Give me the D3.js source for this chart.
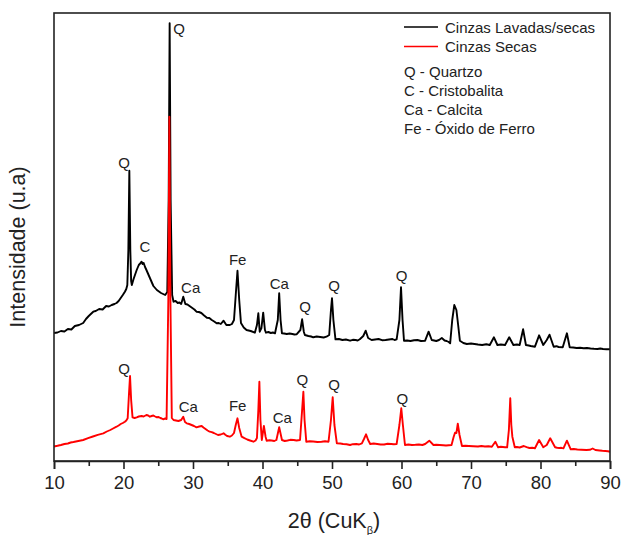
<!DOCTYPE html>
<html>
<head>
<meta charset="utf-8">
<script src="https://cdn.jsdelivr.net/npm/d3@7"></script>
<style>
  html, body { margin: 0; padding: 0; background: #fff; }
  svg { display: block; font-family: "Liberation Sans", Arial, sans-serif; }
</style>
</head>
<body>
<svg id="chart" width="621" height="535"></svg>
<script>
// ---- DATA ----
const seriesNames = ["Cinzas Lavadas/secas", "Cinzas Secas"];
const seriesColors = ["#000000", "#ff0000"];

// 2θ (deg), intensity (a.u.) — Cinzas Lavadas/secas
const lavadas = [
  [10.0,1280],[10.5,1285],[11.0,1300],[11.5,1295],[12.0,1320],[12.5,1315],[13.0,1350],[13.6,1360],[14.2,1380],
  [14.6,1420],[15.0,1450],[15.3,1470],[15.65,1493],[16.0,1500],[16.5,1520],[17.0,1515],[17.5,1550],[17.9,1545],
  [18.3,1560],[18.7,1570],[19.0,1580],[19.3,1600],[19.6,1630],[19.9,1660],[20.2,1693],[20.4,1720],[20.55,1760],
  [20.7,2110],[20.84,2903],[20.98,2110],[21.1,1800],[21.2,1760],[21.45,1820],[21.65,1860],[21.9,1910],[22.2,1960],
  [22.4,1975],[22.6,1993],[22.75,1970],[22.9,1980],[23.1,1940],[23.3,1910],[23.55,1870],[23.8,1830],[24.05,1790],
  [24.3,1750],[24.55,1730],[24.8,1710],[25.1,1695],[25.4,1680],[25.7,1670],[26.0,1660],[26.3,1690],[26.5,2610],
  [26.64,4377],[26.78,2610],[27.0,1660],[27.2,1593],[27.5,1600],[27.8,1580],[28.05,1585],[28.3,1570],[28.6,1643],
  [28.9,1570],[29.2,1565],[29.5,1550],[29.9,1530],[30.2,1515],[30.5,1493],[30.85,1490],[31.2,1480],[31.6,1455],
  [32.0,1433],[32.35,1430],[32.7,1410],[33.05,1395],[33.4,1377],[33.7,1380],[34.0,1370],[34.4,1403],[34.8,1360],
  [35.3,1360],[35.6,1370],[35.9,1410],[36.15,1660],[36.4,1903],[36.65,1610],[36.9,1380],[37.3,1335],[37.7,1310],
  [38.3,1300],[38.9,1283],[39.2,1360],[39.4,1477],[39.6,1293],[39.85,1330],[40.1,1483],[40.35,1310],[40.5,1283],
  [40.85,1290],[41.2,1280],[41.5,1285],[41.8,1277],[42.2,1410],[42.4,1677],[42.6,1410],[42.8,1277],[43.1,1275],
  [43.5,1270],[43.9,1275],[44.3,1270],[44.6,1265],[44.9,1267],[45.45,1310],[45.7,1417],[45.95,1290],[46.1,1260],
  [46.6,1250],[47.0,1245],[47.3,1237],[47.8,1245],[48.3,1240],[48.8,1235],[49.2,1243],[49.6,1260],[49.85,1510],
  [50.0,1627],[50.2,1410],[50.5,1217],[51.0,1220],[51.5,1210],[52.0,1215],[52.6,1203],[53.0,1212],[53.4,1210],
  [53.7,1205],[54.0,1217],[54.5,1250],[54.85,1303],[55.2,1230],[55.7,1210],[56.2,1215],[56.7,1220],[57.2,1208],
  [57.7,1210],[58.2,1215],[58.7,1220],[59.0,1210],[59.3,1217],[59.7,1410],[59.93,1737],[60.15,1410],[60.36,1203],
  [60.8,1205],[61.3,1200],[61.8,1208],[62.3,1210],[62.8,1200],[63.4,1203],[63.9,1293],[64.35,1210],[64.7,1205],
  [65.0,1200],[65.4,1210],[65.8,1230],[66.2,1205],[66.5,1200],[66.8,1190],[67.0,1177],[67.3,1410],[67.6,1560],
  [67.9,1510],[68.15,1360],[68.4,1203],[68.9,1180],[69.4,1170],[70.0,1175],[70.5,1170],[71.0,1165],[71.6,1160],
  [72.2,1168],[72.7,1160],[73.3,1237],[73.8,1160],[74.3,1165],[74.9,1160],[75.5,1237],[76.1,1160],[76.6,1165],
  [77.0,1160],[77.5,1317],[77.9,1160],[78.3,1155],[78.6,1150],[79.2,1143],[79.8,1257],[80.4,1160],[80.9,1210],
  [81.3,1263],[81.9,1143],[82.3,1148],[82.6,1140],[83.2,1137],[83.8,1277],[84.2,1137],[84.7,1135],[85.2,1130],
  [85.7,1133],[86.2,1127],[86.7,1130],[87.2,1125],[87.7,1122],[88.2,1120],[88.6,1125],[89.0,1120],[89.5,1118],
  [90.0,1117]
];

// 2θ (deg), intensity (a.u.) — Cinzas Secas
const secas = [
  [10.0,145],[10.5,152],[11.0,160],[11.5,170],[12.0,175],[12.4,185],[12.8,190],[13.5,200],[14.2,210],[14.9,228],
  [15.6,245],[16.3,262],[17.1,277],[17.6,295],[18.1,310],[18.5,325],[19.0,343],[19.3,355],[19.6,370],[19.9,380],
  [20.2,393],[20.4,405],[20.6,427],[20.78,660],[20.94,850],[21.1,610],[21.3,437],[21.6,430],[21.9,437],[22.2,445],
  [22.6,450],[22.9,445],[23.3,460],[23.55,455],[23.8,443],[24.05,450],[24.3,455],[24.55,445],[24.8,437],[25.05,440],
  [25.3,430],[25.5,425],[25.7,417],[26.0,425],[26.2,420],[26.45,1610],[26.6,3443],[26.75,1610],[26.95,430],
  [27.2,410],[27.55,405],[27.9,400],[28.3,410],[28.6,443],[28.85,390],[29.1,377],[29.45,370],[29.8,360],[30.15,350],
  [30.5,337],[30.9,345],[31.25,350],[31.5,335],[31.8,320],[32.1,305],[32.4,293],[32.7,288],[33.0,280],[33.3,270],
  [33.6,260],[34.0,265],[34.4,277],[34.65,262],[34.9,250],[35.3,243],[35.6,255],[35.9,280],[36.15,360],[36.4,427],
  [36.65,330],[37.0,243],[37.4,228],[37.8,215],[38.2,205],[38.7,193],[39.0,205],[39.2,230],[39.4,510],[39.55,793],
  [39.7,410],[39.9,210],[40.2,350],[40.45,240],[40.6,203],[41.0,208],[41.3,205],[41.7,200],[42.0,210],[42.4,337],
  [42.8,210],[43.2,200],[43.6,205],[44.0,212],[44.5,210],[44.9,205],[45.4,210],[45.7,510],[45.88,693],[46.05,410],
  [46.3,193],[46.8,198],[47.3,195],[47.9,190],[48.5,193],[49.0,198],[49.5,193],[49.85,410],[50.1,637],[50.35,360],
  [50.7,177],[51.2,175],[51.6,170],[52.1,168],[52.6,160],[53.0,168],[53.5,170],[53.9,165],[54.3,177],[54.6,220],
  [54.9,267],[55.2,210],[55.5,170],[56.0,175],[56.5,170],[57.0,165],[57.5,165],[58.0,172],[58.5,170],[58.9,168],
  [59.3,170],[59.7,360],[59.97,527],[60.2,360],[60.5,160],[61.0,165],[61.5,160],[62.0,162],[62.5,165],[63.0,160],
  [63.4,170],[64.0,203],[64.6,160],[65.0,162],[65.5,160],[66.0,158],[66.4,155],[66.8,158],[67.2,160],[67.5,240],
  [67.7,283],[67.9,280],[68.1,373],[68.35,260],[68.7,150],[69.2,152],[69.7,150],[70.3,148],[71.0,145],[71.5,150],
  [72.0,145],[72.5,147],[73.0,143],[73.5,193],[73.9,137],[74.3,142],[74.6,140],[74.9,138],[75.2,137],[75.45,310],
  [75.65,627],[75.8,360],[75.95,243],[76.3,137],[76.6,140],[77.0,135],[77.6,150],[78.0,138],[78.4,130],[78.8,132],
  [79.2,127],[79.8,210],[80.4,137],[80.9,160],[81.4,227],[82.1,137],[82.4,133],[82.7,130],[83.0,132],[83.3,127],
  [83.8,203],[84.35,117],[84.8,120],[85.3,115],[85.9,113],[86.6,110],[87.1,112],[87.5,125],[87.9,110],[88.5,105],
  [88.9,102],[89.3,100],[89.7,97],[90.0,93]
];

// Peak annotations: phase symbol, 2θ, intensity (label position in data space)
const labelsLavadas = [
  ["Q", 27.99, 4330], ["Q", 20.07, 2990], ["C", 23.09, 2143], ["Ca", 29.67, 1737], ["Fe", 36.43, 2020],
  ["Ca", 42.42, 1777], ["Q", 46.12, 1543], ["Q", 50.29, 1760], ["Q", 60.03, 1860]
];
const labelsSecas = [
  ["Q", 20.07, 927], ["Ca", 29.32, 543], ["Fe", 36.43, 560], ["Ca", 42.85, 437],
  ["Q", 45.73, 820], ["Q", 50.29, 770], ["Q", 60.12, 627]
];

const phaseLegend = ["Q - Quartzo", "C - Cristobalita", "Ca - Calcita", "Fe - Óxido de Ferro"];

const xMajorTicks = [10, 20, 30, 40, 50, 60, 70, 80, 90];
const xMinorTicks = [15, 25, 35, 45, 55, 65, 75, 85];
const xDomain = [10, 90];
const yDomain = [0, 4480];
const xTitle = "2θ (CuK";
const xTitleSub = "β";
const yTitle = "Intensidade (u.a)";

// ---- LAYOUT ----
const svg = d3.select("#chart");
const m = { left: 54, right: 610, top: 13, bottom: 461 };

const x = d3.scaleLinear().domain(xDomain).range([m.left, m.right]);
const y = d3.scaleLinear().domain(yDomain).range([m.bottom, m.top]);

// curves
const line = d3.line().x(d => x(d[0])).y(d => y(d[1]));
const g = svg.append("g");
[lavadas, secas].forEach((s, i) => {
  g.append("path")
    .datum(s)
    .attr("fill", "none")
    .attr("stroke", seriesColors[i])
    .attr("stroke-width", 1.9)
    .attr("stroke-linejoin", "round")
    .attr("d", line);
});

// frame
svg.append("rect")
  .attr("x", m.left).attr("y", m.top)
  .attr("width", m.right - m.left).attr("height", m.bottom - m.top)
  .attr("fill", "none").attr("stroke", "#222").attr("stroke-width", 1.6);

// x axis
const xAxis = svg.append("g")
  .attr("transform", `translate(0,${m.bottom})`)
  .call(d3.axisBottom(x).tickValues(xMajorTicks).tickSize(8).tickPadding(7).tickFormat(d3.format("d")));
xAxis.select(".domain").attr("stroke", "#222").attr("stroke-width", 1.6);
xAxis.selectAll(".tick line").attr("stroke", "#222").attr("stroke-width", 1.6);
xAxis.selectAll(".tick text").attr("font-size", 18.5).attr("fill", "#222")
  .attr("font-family", "Liberation Sans, Arial, sans-serif");

const xMinor = svg.append("g")
  .attr("transform", `translate(0,${m.bottom})`)
  .call(d3.axisBottom(x).tickValues(xMinorTicks).tickSize(5).tickFormat(""));
xMinor.select(".domain").remove();
xMinor.selectAll(".tick line").attr("stroke", "#222").attr("stroke-width", 1.6);

// axis titles
const xt = svg.append("text")
  .attr("x", (m.left + m.right) / 2 + 2).attr("y", 528)
  .attr("text-anchor", "middle").attr("font-size", 21.5).attr("fill", "#222")
  .text(xTitle);
xt.append("tspan").attr("font-size", 11).attr("dy", 6).text(xTitleSub);
xt.append("tspan").attr("dy", -6).text(")");

svg.append("text")
  .attr("transform", `translate(25,247) rotate(-90)`)
  .attr("text-anchor", "middle").attr("font-size", 21.5).attr("fill", "#222")
  .text(yTitle);

// peak labels
const allLabels = labelsLavadas.concat(labelsSecas);
svg.append("g").selectAll("text").data(allLabels).join("text")
  .attr("x", d => x(d[1])).attr("y", d => y(d[2]))
  .attr("text-anchor", "middle").attr("dominant-baseline", "central")
  .attr("font-size", 15).attr("fill", "#222")
  .text(d => d[0]);

// legend
const leg = svg.append("g");
seriesNames.forEach((name, i) => {
  const ly = 27 + i * 19.5;
  leg.append("line").attr("x1", 404).attr("x2", 438).attr("y1", ly).attr("y2", ly)
    .attr("stroke", seriesColors[i]).attr("stroke-width", 1.7);
  leg.append("text").attr("x", 445).attr("y", ly).attr("dominant-baseline", "central")
    .attr("font-size", 15).attr("fill", "#222").text(name);
});
phaseLegend.forEach((t, i) => {
  leg.append("text").attr("x", 404).attr("y", 71 + i * 19.2).attr("dominant-baseline", "central")
    .attr("font-size", 15).attr("fill", "#222").text(t);
});
</script>
</body>
</html>
